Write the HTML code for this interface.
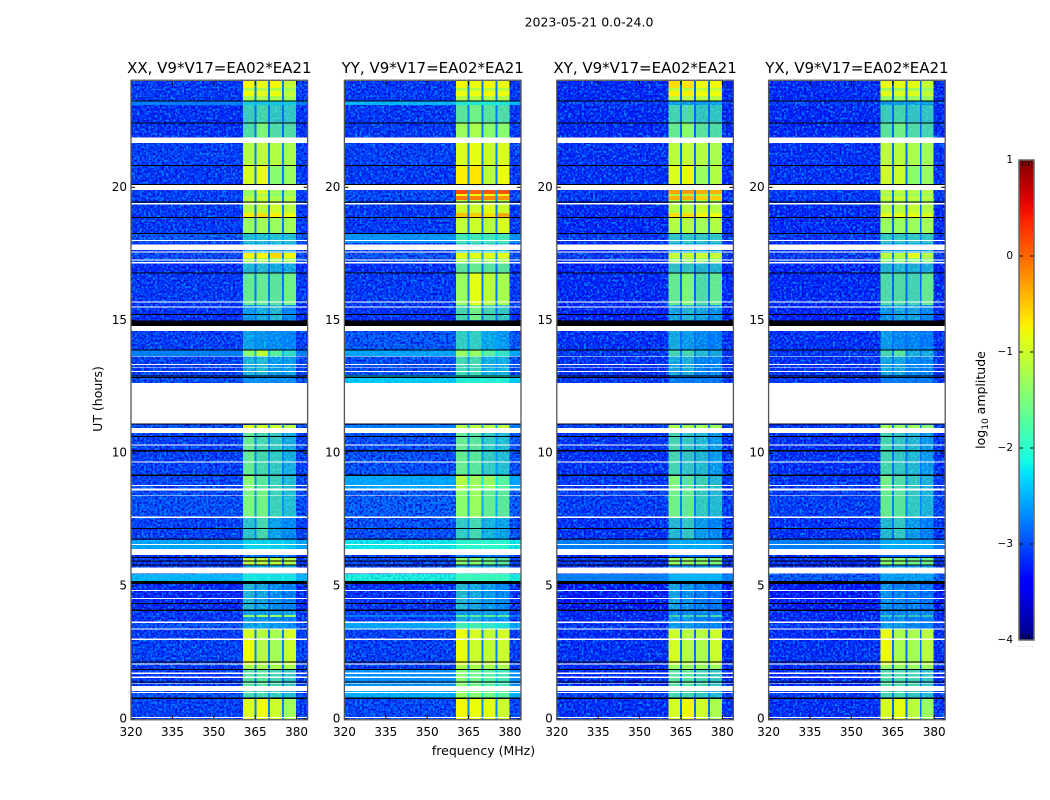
<!DOCTYPE html>
<html>
<head>
<meta charset="utf-8">
<title>2023-05-21 amplitude waterfall</title>
<style>
html,body{margin:0;padding:0;background:#fff;width:1050px;height:800px;overflow:hidden}
svg{display:block}
text{font-family:"DejaVu Sans","Liberation Sans",sans-serif;fill:#000}
</style>
</head>
<body>
<svg id="figure" width="1050" height="800" viewBox="0 0 1050 800" xmlns="http://www.w3.org/2000/svg">
  <defs>
    <filter id="speckleLight" x="0" y="0" width="100%" height="100%" color-interpolation-filters="sRGB">
      <feTurbulence type="fractalNoise" baseFrequency="0.45" numOctaves="1" seed="4"/>
      <feColorMatrix type="matrix" values="0 0 0 0 0  0 0 0 0 0.58  0 0 0 0 1  5 0 0 0 -2.3"/>
    </filter>
    <filter id="speckleDark" x="0" y="0" width="100%" height="100%" color-interpolation-filters="sRGB">
      <feTurbulence type="fractalNoise" baseFrequency="0.45" numOctaves="1" seed="11"/>
      <feColorMatrix type="matrix" values="0 0 0 0 0  0 0 0 0 0.02  0 0 0 0 0.82  5 0 0 0 -2.3"/>
    </filter>
    <linearGradient id="jetGradient" x1="0" y1="1" x2="0" y2="0"></linearGradient>
  </defs>
  <text x="589" y="26.5" font-size="12.5" text-anchor="middle">2023-05-21 0.0-24.0</text>
  <text x="0" y="0" font-size="12.5" text-anchor="middle" transform="translate(102,399) rotate(-90)">UT (hours)</text>
  <text x="483.5" y="755" font-size="12.5" text-anchor="middle">frequency (MHz)</text>
  <g id="panels"></g>
  <g id="colorbar"></g>
  <text x="0" y="0" font-size="12.5" text-anchor="middle" transform="translate(985,400) rotate(-90)">log<tspan font-size="9" dy="3">10</tspan><tspan dy="-3"> amplitude</tspan></text>
  <text x="1026" y="647" font-size="5" letter-spacing="1.2" text-anchor="middle" style="fill:#666">......</text>
</svg>
<script>
// ---------- chart data (hours, MHz, log10 amplitude) ----------
const panelTitles = ["XX, V9*V17=EA02*EA21","YY, V9*V17=EA02*EA21","XY, V9*V17=EA02*EA21","YX, V9*V17=EA02*EA21"];
const freqTicks = [320,335,350,365,380];
const hourTicks = [0,5,10,15,20];
const levelTicks = [-4,-3,-2,-1,0,1];
const freqEdges = [320,360.5,364.7,365.4,369.7,370.4,374.8,375.5,379.8,384];
const hourEdges = [24,23.74,23.63,23.44,23.25,23.10,22.42,21.90,21.67,20.84,20.09,19.90,19.75,19.68,19.53,19.41,19.04,18.89,18.28,17.91,17.53,17.34,17.16,16.78,15.58,15.01,14.60,13.88,13.66,12.94,12.64,11.06,10.95,10.76,9.18,8.62,7.60,6.73,6.40,6.17,6.06,5.79,5.46,5.19,5.08,4.10,3.91,3.84,3.65,3.37,2.97,2.03,1.84,1.09,0.79,0];
// each row: background, then the four receiver sub-bands
const xxLevels = [
[-3.0,-0.95,-1.0,-0.95,-1.25],[-3.0,-1.4,-1.4,-1.4,-1.45],[-3.0,-1.0,-1.05,-1.0,-1.25],[-3.0,-1.4,-1.4,-1.4,-1.45],
[-2.7,-2.2,-2.2,-2.2,-2.2],[-3.05,-1.95,-1.9,-2.0,-2.0],[-3.05,-1.85,-1.65,-1.85,-1.85],[-3.0,-1.8,-1.8,-1.8,-1.8],
[-2.95,-1.35,-1.3,-1.35,-1.4],[-3.0,-1.15,-1.05,-1.6,-1.5],[-3.0,-1.5,-1.5,-1.5,-1.5],[-2.95,-1.5,-1.15,-1.5,-1.4],
[-2.95,-1.5,-1.4,-1.6,-1.5],[-2.95,-1.3,-1.2,-1.4,-1.3],[-2.95,-1.3,-1.3,-1.3,-1.3],[-3.0,-1.35,-1.3,-1.2,-1.3],
[-3.0,-0.9,-0.8,-0.9,-1.0],[-3.0,-1.5,-1.45,-1.5,-1.45],[-2.8,-2.1,-2.1,-2.1,-2.1],[-3.0,-2.2,-2.2,-2.2,-2.2],
[-2.9,-0.95,-0.95,-0.75,-0.95],[-2.9,-1.4,-1.4,-1.4,-1.4],[-3.1,-2.1,-2.1,-2.2,-2.2],[-3.0,-1.75,-1.75,-1.8,-1.7],
[-3.05,-2.3,-2.2,-2.1,-2.4],[-3.2,-2.6,-2.6,-2.6,-2.6],[-2.95,-2.3,-2.35,-2.4,-2.5],[-2.7,-1.6,-1.3,-1.8,-2.0],
[-2.95,-2.15,-2.1,-2.3,-2.3],[-2.85,-2.5,-2.5,-2.5,-2.5],[-3.0,-3.0,-3.0,-3.0,-3.0],[-2.8,-1.1,-1.15,-1.2,-1.3],
[-3.0,-2.0,-2.0,-2.0,-2.0],[-2.95,-1.75,-1.9,-2.0,-2.2],[-2.9,-1.6,-1.8,-1.95,-2.1],[-2.85,-1.65,-1.7,-1.95,-2.1],
[-2.95,-2.05,-1.9,-2.3,-2.45],[-2.5,-2.3,-2.3,-2.35,-2.4],[-3.0,-2.5,-2.5,-2.5,-2.5],[-3.1,-2.6,-2.6,-2.6,-2.6],
[-3.0,-1.25,-1.25,-1.3,-1.35],[-3.0,-2.2,-2.2,-2.2,-2.2],[-2.4,-2.15,-2.2,-2.2,-2.2],[-3.0,-2.5,-2.5,-2.5,-2.5],
[-3.1,-2.1,-2.2,-2.35,-2.45],[-3.0,-2.3,-2.3,-2.3,-2.3],[-3.0,-1.5,-1.5,-1.5,-1.5],[-3.05,-2.3,-2.3,-2.4,-2.5],
[-2.85,-2.3,-2.3,-2.4,-2.5],[-3.0,-1.15,-1.35,-1.4,-1.15],[-2.95,-1.0,-1.35,-1.45,-1.2],[-3.0,-1.4,-1.4,-1.4,-1.4],
[-3.0,-1.8,-1.8,-1.9,-2.0],[-2.85,-1.9,-1.9,-2.0,-2.1],[-2.95,-1.1,-1.0,-1.2,-1.45]];
const yyLevels = [
[-3.0,-0.95,-1.0,-0.95,-1.0],[-3.0,-1.35,-1.35,-1.35,-1.35],[-3.0,-1.0,-1.0,-0.95,-1.0],[-3.0,-1.35,-1.35,-1.35,-1.35],
[-2.4,-2.1,-2.1,-2.1,-2.1],[-3.0,-1.8,-1.7,-1.8,-1.85],[-3.0,-1.5,-1.4,-1.6,-1.6],[-3.0,-1.6,-1.6,-1.6,-1.6],
[-2.95,-1.1,-1.05,-1.2,-1.1],[-3.0,-0.9,-0.85,-1.3,-1.0],[-3.0,-1.3,-1.3,-1.3,-1.3],[-2.9,0.15,0.0,0.1,0.1],
[-2.9,-1.0,-1.0,-1.0,-1.0],[-2.9,-0.1,-0.15,-0.2,-0.3],[-2.95,-1.3,-1.3,-1.3,-1.3],[-3.0,-1.2,-1.2,-1.1,-1.2],
[-3.0,-0.6,-0.7,-0.8,-0.45],[-3.0,-1.25,-1.2,-1.3,-1.1],[-2.6,-1.9,-1.9,-1.9,-1.9],[-3.0,-2.0,-2.0,-2.0,-2.0],
[-2.8,-1.05,-1.05,-1.05,-1.05],[-2.9,-1.4,-1.4,-1.4,-1.4],[-3.05,-1.8,-1.75,-1.8,-1.8],[-3.0,-1.5,-1.05,-1.3,-1.4],
[-3.05,-1.9,-1.7,-1.9,-2.0],[-3.2,-2.3,-2.3,-2.3,-2.3],[-2.8,-2.0,-2.0,-2.3,-2.4],[-2.5,-1.5,-1.5,-1.8,-2.0],
[-2.85,-1.9,-1.9,-2.2,-2.2],[-2.3,-2.1,-2.1,-2.1,-2.1],[-3.0,-3.0,-3.0,-3.0,-3.0],[-2.7,-1.3,-1.3,-1.3,-1.3],
[-3.0,-2.0,-2.0,-2.0,-2.0],[-2.85,-1.75,-1.8,-2.0,-2.1],[-2.5,-1.35,-1.5,-1.5,-1.8],[-2.75,-1.6,-1.5,-1.75,-1.8],
[-2.85,-2.0,-1.9,-2.2,-2.3],[-2.15,-2.1,-2.1,-2.1,-2.1],[-3.0,-2.5,-2.5,-2.5,-2.5],[-3.0,-2.6,-2.6,-2.6,-2.6],
[-2.9,-1.6,-1.6,-1.7,-1.8],[-3.0,-2.2,-2.2,-2.2,-2.2],[-2.05,-2.0,-2.0,-2.0,-2.0],[-3.0,-2.5,-2.5,-2.5,-2.5],
[-3.05,-2.1,-2.2,-2.3,-2.4],[-3.0,-2.3,-2.3,-2.3,-2.3],[-2.7,-1.8,-1.8,-1.8,-1.8],[-3.0,-2.2,-2.2,-2.3,-2.4],
[-2.5,-1.9,-1.9,-2.0,-2.1],[-2.95,-1.0,-1.15,-1.25,-1.15],[-2.95,-1.0,-1.2,-1.25,-1.2],[-3.0,-1.4,-1.4,-1.4,-1.4],
[-2.6,-1.6,-1.7,-1.8,-1.9],[-2.45,-1.5,-1.6,-1.7,-1.8],[-2.9,-0.95,-1.0,-1.05,-1.2]];
const xyLevels = [
[-3.1,-0.8,-0.85,-1.0,-0.95],[-3.1,-1.3,-1.3,-1.3,-1.3],[-3.1,-0.9,-0.9,-1.0,-1.0],[-3.1,-1.3,-1.3,-1.3,-1.3],
[-2.95,-2.3,-2.3,-2.3,-2.3],[-3.1,-1.9,-1.85,-2.0,-2.0],[-3.1,-1.75,-1.6,-1.8,-1.85],[-3.1,-1.8,-1.8,-1.8,-1.8],
[-3.05,-1.3,-1.25,-1.35,-1.4],[-3.05,-1.1,-1.0,-1.5,-1.35],[-3.05,-1.5,-1.5,-1.5,-1.5],[-3.0,-0.4,-0.35,-0.45,-0.5],
[-3.0,-1.4,-1.4,-1.4,-1.4],[-3.0,-0.5,-0.5,-0.7,-0.7],[-3.05,-1.4,-1.4,-1.4,-1.4],[-3.1,-1.35,-1.3,-1.25,-1.35],
[-3.1,-0.8,-0.8,-0.95,-1.0],[-3.1,-1.35,-1.35,-1.45,-1.35],[-3.0,-2.0,-2.0,-2.0,-2.0],[-3.1,-2.2,-2.2,-2.2,-2.2],
[-3.0,-1.25,-1.25,-1.25,-1.25],[-3.0,-1.5,-1.5,-1.5,-1.5],[-3.15,-2.0,-2.0,-2.1,-2.1],[-3.1,-1.75,-1.65,-1.85,-1.75],
[-3.15,-2.2,-2.1,-2.2,-2.3],[-3.25,-2.6,-2.6,-2.6,-2.6],[-3.05,-2.2,-2.3,-2.4,-2.5],[-3.0,-1.9,-1.9,-2.1,-2.2],
[-3.05,-2.2,-2.15,-2.4,-2.4],[-3.0,-2.6,-2.6,-2.6,-2.6],[-3.0,-3.0,-3.0,-3.0,-3.0],[-2.95,-1.4,-1.4,-1.45,-1.5],
[-3.0,-2.0,-2.0,-2.0,-2.0],[-3.05,-1.9,-2.0,-2.1,-2.3],[-3.0,-1.65,-1.8,-1.95,-2.1],[-2.95,-1.7,-1.75,-2.0,-2.1],
[-3.05,-2.1,-2.0,-2.3,-2.45],[-2.7,-2.5,-2.5,-2.5,-2.5],[-3.0,-2.6,-2.6,-2.6,-2.6],[-3.15,-2.7,-2.7,-2.7,-2.7],
[-3.05,-1.5,-1.5,-1.6,-1.65],[-3.1,-2.3,-2.3,-2.3,-2.3],[-2.7,-2.4,-2.4,-2.4,-2.4],[-3.0,-2.6,-2.6,-2.6,-2.6],
[-3.2,-2.2,-2.3,-2.4,-2.5],[-3.1,-2.4,-2.4,-2.4,-2.4],[-3.1,-1.9,-1.9,-1.9,-1.9],[-3.1,-2.3,-2.3,-2.45,-2.5],
[-3.0,-2.3,-2.3,-2.4,-2.5],[-3.1,-1.2,-1.35,-1.35,-1.2],[-3.05,-1.15,-1.35,-1.4,-1.2],[-3.1,-1.5,-1.5,-1.5,-1.5],
[-3.1,-1.8,-1.8,-1.9,-2.0],[-2.95,-1.9,-1.9,-2.0,-2.1],[-3.05,-1.15,-0.95,-1.2,-1.4]];
const yxLevels = [
[-3.1,-1.0,-1.05,-1.05,-1.25],[-3.1,-1.5,-1.5,-1.5,-1.5],[-3.1,-1.05,-1.1,-1.1,-1.25],[-3.1,-1.5,-1.5,-1.5,-1.5],
[-2.95,-2.3,-2.3,-2.3,-2.3],[-3.1,-1.95,-1.9,-2.0,-2.0],[-3.1,-1.8,-1.7,-1.85,-1.9],[-3.1,-1.8,-1.8,-1.8,-1.8],
[-3.05,-1.3,-1.3,-1.4,-1.45],[-3.05,-1.2,-1.2,-1.6,-1.5],[-3.05,-1.6,-1.6,-1.6,-1.6],[-3.0,-1.35,-1.3,-1.35,-1.35],
[-3.0,-1.5,-1.5,-1.5,-1.5],[-3.0,-1.25,-1.2,-1.3,-1.3],[-3.05,-1.4,-1.4,-1.4,-1.4],[-3.1,-1.35,-1.35,-1.25,-1.35],
[-3.1,-1.05,-1.05,-1.05,-1.1],[-3.1,-1.5,-1.5,-1.5,-1.45],[-3.0,-2.0,-2.0,-2.0,-2.0],[-3.1,-2.2,-2.2,-2.2,-2.2],
[-3.0,-1.3,-1.35,-1.05,-1.35],[-3.0,-1.6,-1.6,-1.6,-1.6],[-3.15,-2.1,-2.1,-2.15,-2.15],[-3.1,-1.85,-1.85,-1.9,-1.75],
[-3.15,-2.3,-2.2,-2.2,-2.35],[-3.25,-2.7,-2.7,-2.7,-2.7],[-3.05,-2.3,-2.4,-2.45,-2.55],[-3.0,-1.9,-1.8,-2.2,-2.2],
[-3.05,-2.2,-2.2,-2.4,-2.4],[-3.0,-2.6,-2.6,-2.6,-2.6],[-3.0,-3.0,-3.0,-3.0,-3.0],[-2.95,-1.5,-1.5,-1.5,-1.6],
[-3.0,-2.0,-2.0,-2.0,-2.0],[-3.05,-1.9,-2.0,-2.1,-2.3],[-3.0,-1.7,-1.85,-2.0,-2.15],[-2.95,-1.75,-1.8,-2.0,-2.15],
[-3.05,-2.1,-2.0,-2.3,-2.5],[-2.7,-2.5,-2.5,-2.5,-2.5],[-3.0,-2.6,-2.6,-2.6,-2.6],[-3.15,-2.7,-2.7,-2.7,-2.7],
[-3.05,-1.6,-1.6,-1.7,-1.7],[-3.1,-2.3,-2.3,-2.3,-2.3],[-2.75,-2.4,-2.4,-2.4,-2.4],[-3.0,-2.6,-2.6,-2.6,-2.6],
[-3.2,-2.3,-2.35,-2.4,-2.5],[-3.1,-2.4,-2.4,-2.4,-2.4],[-3.1,-2.0,-2.0,-2.0,-2.0],[-3.1,-2.35,-2.35,-2.45,-2.5],
[-3.0,-2.3,-2.3,-2.4,-2.5],[-3.1,-1.05,-1.4,-1.4,-1.3],[-3.05,-1.0,-1.4,-1.45,-1.3],[-3.1,-1.5,-1.5,-1.5,-1.5],
[-3.1,-1.85,-1.85,-1.9,-2.0],[-3.0,-1.9,-1.9,-2.0,-2.1],[-3.05,-1.15,-1.05,-1.3,-1.5]];
const panelLevels = [xxLevels,yyLevels,xyLevels,yxLevels];
const flaggedStart = [21.88,20.09,19.41,18.02,17.85,17.59,17.29,17.19,15.71,15.52,14.79,13.66,13.35,13.25,13.10,12.64,10.95,10.33,9.68,8.81,8.67,8.43,7.61,6.59,6.40,5.69,4.86,4.56,3.66,3.40,3.02,2.09,1.74,1.59,1.36,1.24,1.02,0.07];
const flaggedEnd   = [21.67,19.90,19.36,17.98,17.64,17.55,17.25,17.14,15.67,15.48,14.60,13.63,13.31,13.22,13.06,11.12,10.76,10.29,9.64,8.77,8.59,8.40,7.57,6.55,6.17,5.47,4.82,4.52,3.62,3.37,2.98,2.05,1.70,1.55,1.33,1.05,0.98,0.03];
const blankStart = [23.27,22.44,20.84,20.12,19.47,18.89,18.29,16.80,15.24,14.99,13.90,12.93,12.87,11.11,10.64,10.11,9.19,7.19,6.79,6.09,5.96,5.81,5.19,4.37,4.11,2.17,1.89,1.41,0.80];
const blankEnd   = [23.23,22.40,20.80,20.09,19.43,18.85,18.25,16.76,15.20,14.79,13.86,12.89,12.83,11.07,10.60,10.07,9.15,7.15,6.75,6.05,5.92,5.77,5.08,4.33,4.07,2.13,1.85,1.37,0.76];
// which level column each frequency column uses (0 background, 1-4 sub-bands)
const columnSource = [0,1,0,2,0,3,0,4,0];

// ---------- axes ----------
const NS = 'http://www.w3.org/2000/svg';
const panelLeft = [131,344.4,556.8,768.6];
const plotW = 176.6, plotTop = 81, plotBottom = 719;
const freqMin = 320, freqMax = 384, hourMin = 0, hourMax = 24, levelMin = -4, levelMax = 1;
function xScale(f, left){ return left + (f - freqMin) / (freqMax - freqMin) * plotW; }
function yScale(h){ return plotBottom - (h - hourMin) / (hourMax - hourMin) * (plotBottom - plotTop); }
function lerp(pts, t){
  if (t <= pts[0][0]) return pts[0][1];
  for (let i = 1; i < pts.length; i++) {
    if (t <= pts[i][0]) {
      const a = pts[i-1], b = pts[i];
      return a[1] + (b[1]-a[1]) * (t-a[0]) / (b[0]-a[0]);
    }
  }
  return pts[pts.length-1][1];
}
function jet(t){
  t = Math.max(0, Math.min(1, t));
  const r = lerp([[0,0],[.35,0],[.66,1],[.89,1],[1,.5]], t);
  const g = lerp([[0,0],[.125,0],[.375,1],[.64,1],[.91,0],[1,0]], t);
  const b = lerp([[0,.5],[.11,1],[.34,1],[.65,0],[1,0]], t);
  return 'rgb(' + Math.round(r*255) + ',' + Math.round(g*255) + ',' + Math.round(b*255) + ')';
}
function levelColor(v){ return jet((v - levelMin) / (levelMax - levelMin)); }
function backgroundShade(v){ return v - 0.12; }
function bandShade(v){ return v + lerp([[-2.6,.2],[-1.5,.18],[-.8,.18],[0,0]], v); }
function make(tag, attrs, parent){
  const el = document.createElementNS(NS, tag);
  for (const k in attrs) el.setAttribute(k, attrs[k]);
  parent.appendChild(el);
  return el;
}

// ---------- panels ----------
const panelsRoot = document.getElementById('panels');
const defs = document.querySelector('defs');
panelTitles.forEach(function(title, p){
  const left = panelLeft[p];
  const levels = panelLevels[p];
  const clip = make('clipPath', {id:'clip'+p}, defs);
  make('rect', {x:left, y:plotTop, width:plotW, height:plotBottom-plotTop}, clip);

  const g = make('g', {}, panelsRoot);
  
  

  const heat = make('g', {'clip-path':'url(#clip'+p+')', 'shape-rendering':'crispEdges'}, g);
  
  

  // full-width background rows
  levels.forEach(function(row, i){
    const y0 = yScale(hourEdges[i]), y1 = yScale(hourEdges[i+1]);
    const cell = make('rect', {x:left, y:y0, width:plotW, height:y1-y0, fill:levelColor(backgroundShade(row[0]))}, heat);
    
    
  });
  // speckle texture
  const n1 = make('rect', {x:left, y:plotTop, width:plotW, height:plotBottom-plotTop, filter:'url(#speckleLight)', opacity:'0.9'}, heat);
  
  
  const n2 = make('rect', {x:left, y:plotTop, width:plotW, height:plotBottom-plotTop, filter:'url(#speckleDark)', opacity:'0.8'}, heat);
  
  
  // smooth bright rows sit over the speckle
  levels.forEach(function(row, i){
    if (row[0] <= -2.72) return;
    const y0 = yScale(hourEdges[i]), y1 = yScale(hourEdges[i+1]);
    const cell = make('rect', {x:left, y:y0, width:plotW, height:y1-y0, fill:levelColor(row[0]), 'fill-opacity':0.75}, heat);
    
    
  });
  // receiver sub-band and gap columns
  columnSource.forEach(function(src, c){
    if (c === 0 || c === columnSource.length-1) return;
    levels.forEach(function(row, i){
      const x0 = xScale(freqEdges[c], left), x1 = xScale(freqEdges[c+1], left);
      const y0 = yScale(hourEdges[i]), y1 = yScale(hourEdges[i+1]);
      const v = src === 0 ? backgroundShade(row[0]) + 0.4 : bandShade(row[src]);
      const alpha = src === 0 ? 0.85 : Math.max(0.45, Math.min(1, (row[src] + 3) / 1.4));
      const cell = make('rect', {x:x0, y:y0, width:x1-x0, height:y1-y0, fill:levelColor(v), 'fill-opacity':alpha}, heat);
      
      
    });
  });

  flaggedStart.forEach(function(h, i){
    const y0 = yScale(h), y1 = yScale(flaggedEnd[i]);
    const r = make('rect', {x:left, y:y0, width:plotW, height:y1-y0, fill:'#fff'}, heat);
    
    
  });
  blankStart.forEach(function(h, i){
    const y0 = yScale(h), y1 = yScale(blankEnd[i]);
    const r = make('rect', {x:left, y:y0, width:plotW, height:y1-y0, fill:'#000'}, heat);
    
    
  });

  // ticks
  freqTicks.forEach(function(f){
    const x = xScale(f, left);
    const t1 = make('line', {x1:x, x2:x, y1:plotBottom, y2:plotBottom-4, stroke:'#000'}, g);
    
    
    const t2 = make('line', {x1:x, x2:x, y1:plotTop, y2:plotTop+4, stroke:'#000'}, g);
    
    
    const lab = make('text', {x:x, y:plotBottom+17, 'font-size':12, 'text-anchor':'middle'}, g);
    
    
    lab.textContent = String(f);
  });
  hourTicks.forEach(function(h){
    const y = yScale(h);
    const t1 = make('line', {x1:left, x2:left+4, y1:y, y2:y, stroke:'#000'}, g);
    
    
    const t2 = make('line', {x1:left+plotW-4, x2:left+plotW, y1:y, y2:y, stroke:'#000'}, g);
    
    
    const lab = make('text', {x:left-4, y:y+3.5, 'font-size':12, 'text-anchor':'end'}, g);
    
    
    lab.textContent = String(h);
  });
  const frame = make('rect', {x:left, y:plotTop-0.75, width:plotW, height:plotBottom-plotTop+1.5, fill:'none', stroke:'#555', 'stroke-width':1.3}, g);
  
  
  const t = make('text', {x:left+plotW/2, y:73, 'font-size':15, 'text-anchor':'middle'}, g);
  
  
  t.textContent = title;
});

// ---------- colour bar ----------
const cbRoot = document.getElementById('colorbar');
const grad = document.getElementById('jetGradient');
for (let i = 0; i <= 40; i++) {
  make('stop', {offset:(i/40), 'stop-color':jet(i/40)}, grad);
}
const cbX = 1019, cbW = 15, cbTop = 160, cbBottom = 640;
function cbY(v){ return cbBottom - (v - levelMin) / (levelMax - levelMin) * (cbBottom - cbTop); }
const cbFill = make('rect', {x:cbX, y:cbTop, width:cbW, height:cbBottom-cbTop, fill:'url(#jetGradient)'}, cbRoot);


levelTicks.forEach(function(v){
  const y = cbY(v);
  const t1 = make('line', {x1:cbX, x2:cbX+4, y1:y, y2:y, stroke:'#000'}, cbRoot);
  
  
  const t2 = make('line', {x1:cbX+cbW-4, x2:cbX+cbW, y1:y, y2:y, stroke:'#000'}, cbRoot);
  
  
  const lab = make('text', {x:cbX-6, y:y+3, 'font-size':10.5, 'text-anchor':'end'}, cbRoot);
  
  
  lab.textContent = (v < 0 ? '\u2212' + Math.abs(v) : String(v));
});
[3,6,9,12].forEach(function(dx){
  const a = make('line', {x1:cbX+dx+.5, x2:cbX+dx+.5, y1:cbTop, y2:cbTop+6, stroke:'#000', 'stroke-opacity':.7}, cbRoot);
  
  
  const b = make('line', {x1:cbX+dx+.5, x2:cbX+dx+.5, y1:cbBottom-6, y2:cbBottom, stroke:'#000', 'stroke-opacity':.7}, cbRoot);
  
  
});
const cbFrame = make('rect', {x:cbX, y:cbTop, width:cbW, height:cbBottom-cbTop, fill:'none', stroke:'#666', 'stroke-width':1.5}, cbRoot);


</script>
</body>
</html>
